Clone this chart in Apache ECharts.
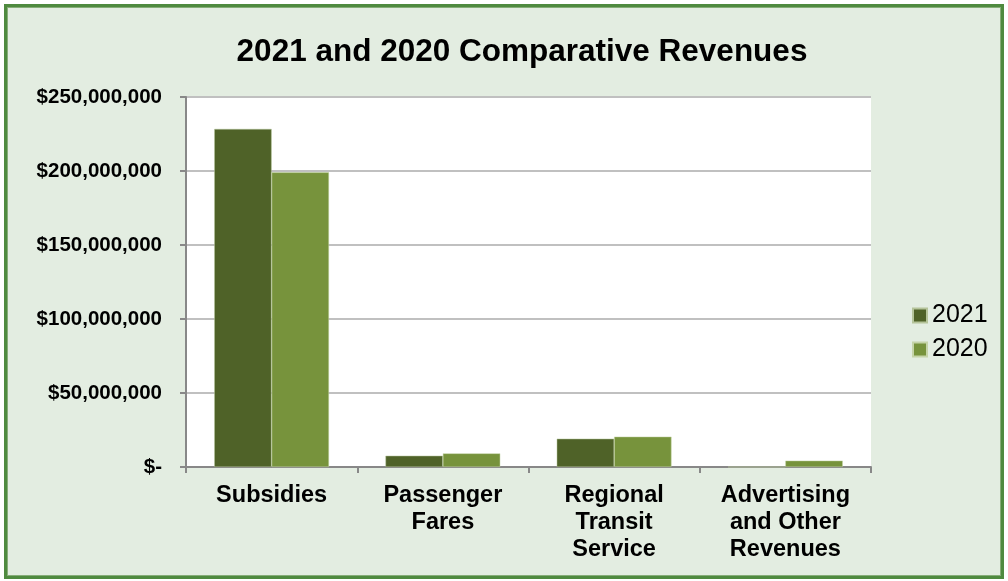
<!DOCTYPE html>
<html>
<head>
<meta charset="utf-8">
<script src="https://cdn.jsdelivr.net/npm/echarts@6/dist/echarts.min.js"></script>
<style>
  html, body { margin: 0; padding: 0; background: #fff; }
  #frame {
    position: absolute; left: 4px; top: 4px; width: 994px; height: 569px;
    background: #E3EDE1;
    border: 3px solid #4F8A3F;
    box-shadow: inset 0 0 0 1px #86AD78;
  }
  #chart { position: absolute; left: 0; top: 0; width: 1008px; height: 581px; }
</style>
</head>
<body>
<div id="frame"></div>
<div id="chart"></div>
<script>
  // revenue categories and the two years
  const categories = ['Subsidies', 'Passenger\nFares', 'Regional\nTransit\nService', 'Advertising\nand Other\nRevenues']
  const rev2021 = [228400000, 7600000, 19100000, 0]
  const rev2020 = [199100000, 9200000, 20500000, 4300000]

  const font = 'Liberation Sans, Arial, sans-serif'

  var myChart = echarts.init(document.getElementById('chart'))

  myChart.setOption({
    animation: false,
    backgroundColor: 'transparent',
    title: {
      text: '2021 and 2020 Comparative Revenues',
      left: 517, top: 31, textAlign: 'center',
      textStyle: { fontFamily: font, fontSize: 31.5, fontWeight: 'bold', color: '#000' }
    },
    legend: {
      orient: 'vertical', left: 907, top: 298,
      itemWidth: 14, itemHeight: 14, itemGap: 9, icon: 'rect',
      textStyle: { fontFamily: font, fontSize: 25, lineHeight: 20, color: '#000' },
      data: ['2021', '2020']
    },
    grid: { left: 186, right: 137, top: 97, bottom: 114, backgroundColor: '#fff', show: true, borderWidth: 0 },
    xAxis: {
      type: 'category', data: categories,
      axisLine: { lineStyle: { color: '#888', width: 2 } },
      axisTick: { show: true, length: 6, lineStyle: { color: '#888', width: 2 } },
      axisLabel: { fontFamily: font, fontSize: 23.5, fontWeight: 'bold', color: '#000', lineHeight: 27, margin: 15 }
    },
    yAxis: {
      type: 'value', min: 0, max: 250000000, interval: 50000000,
      axisLine: { show: true, lineStyle: { color: '#888', width: 2 } },
      axisTick: { show: true, length: 6, lineStyle: { color: '#888', width: 2 } },
      splitLine: { lineStyle: { color: '#C0C0C0', width: 2 } },
      axisLabel: {
        fontFamily: font, fontSize: 20.5, fontWeight: 'bold', color: '#000', margin: 24,
        formatter: v => v === 0 ? '$-' : '$' + v.toLocaleString('en-US')
      }
    },
    series: [
      { name: '2021', type: 'bar', data: rev2021, barGap: '0%', barCategoryGap: '33%',
        itemStyle: { color: '#4F6228', borderColor: '#B5C49A', borderWidth: 0.5 } },
      { name: '2020', type: 'bar', data: rev2020,
        itemStyle: { color: '#77933C', borderColor: '#C5D4A8', borderWidth: 0.5 } }
    ]
  })
</script>
</body>
</html>
